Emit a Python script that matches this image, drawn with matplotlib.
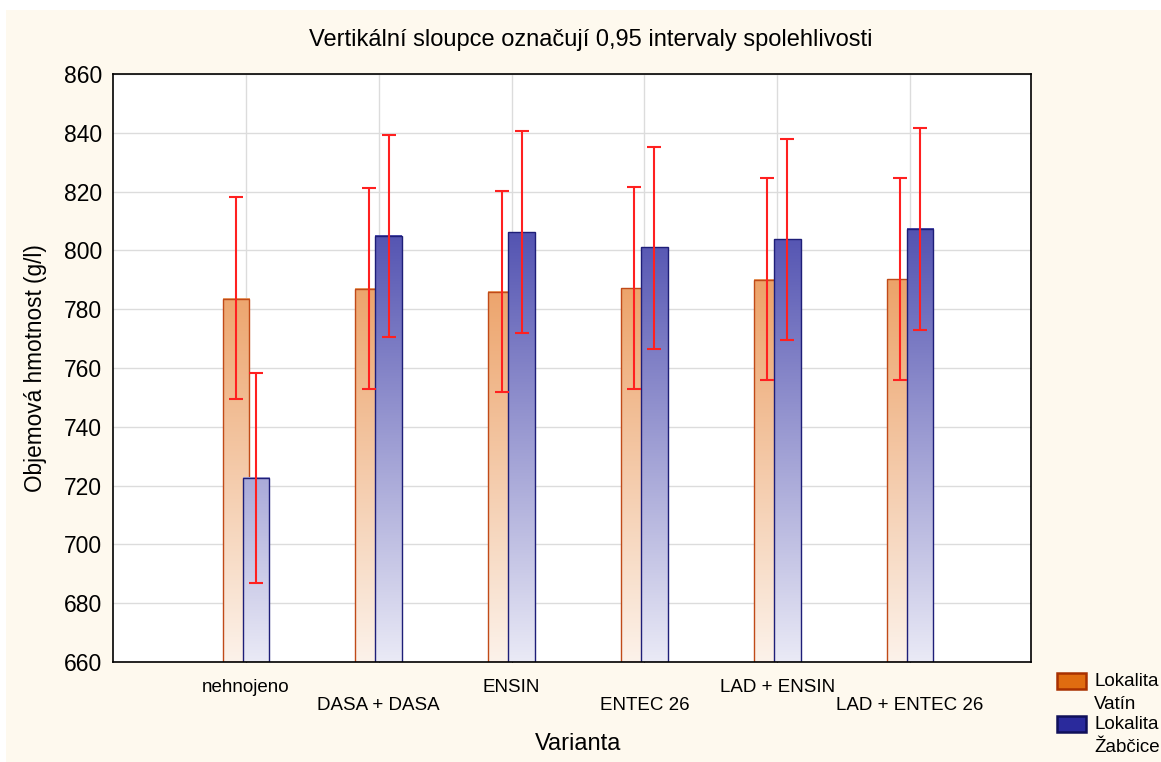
import matplotlib
matplotlib.use("Agg")
import matplotlib.pyplot as plt
import numpy as np
from matplotlib.patches import Rectangle

plt.rcParams['font.family'] = ['Liberation Sans', 'DejaVu Sans']

# data
varianty = ['nehnojeno', 'DASA + DASA', 'ENSIN', 'ENTEC 26', 'LAD + ENSIN', 'LAD + ENTEC 26']
vatin_mean = [783.6, 787.0, 786.0, 787.2, 790.0, 790.2]
vatin_low = [749.5, 752.8, 751.8, 752.8, 755.8, 755.8]
vatin_high = [818.0, 821.2, 820.3, 821.5, 824.5, 824.5]
zabcice_mean = [722.6, 805.0, 806.2, 801.0, 803.8, 807.3]
zabcice_low = [687.0, 770.6, 772.0, 766.6, 769.6, 773.0]
zabcice_high = [758.3, 839.2, 840.5, 835.3, 838.0, 841.5]
legenda = ['Lokalita\nVatín', 'Lokalita\nŽabčice']

ymin, ymax = 660, 860
bar_w = 0.2
off = 0.075
W, H = 1161, 762

fig = plt.figure(figsize=(W / 100, H / 100), dpi=100)
fig.patch.set_facecolor('white')
fig.patches.append(Rectangle((6 / W, 0), 1, 1 - 10 / H, transform=fig.transFigure,
                             facecolor='#fef9ee', edgecolor='none', zorder=-10))
ax = fig.add_axes([113 / W, 1 - 662 / H, (1031 - 113) / W, (662 - 74) / H])
ax.set_facecolor('white')


def grad_bar(x, h, top_rgb, bot_rgb, edge, z):
    # vertical gradient depending on absolute value (as in original)
    ys = np.linspace(ymin, h, 200)
    t = np.clip((ys - ymin) / (810 - ymin), 0, 1)[:, None]
    top = np.array(top_rgb) / 255.0
    bot = np.array(bot_rgb) / 255.0
    img = (bot + (top - bot) * t)[:, None, :]
    ax.imshow(img, extent=(x - bar_w / 2, x + bar_w / 2, ymin, h), origin='lower',
              aspect='auto', zorder=z, interpolation='bilinear')
    ax.bar(x, h - ymin, bottom=ymin, width=bar_w, facecolor='none', edgecolor=edge,
           linewidth=1.0, zorder=z + 0.05)


x = np.arange(len(varianty))
for i in x:
    grad_bar(i - off, vatin_mean[i], (234, 150, 85), (252, 242, 234), '#c04a18', 2)
    grad_bar(i + off, zabcice_mean[i], (80, 80, 176), (234, 234, 246), '#1e1e78', 2.2)

v_err = [np.array(vatin_mean) - np.array(vatin_low), np.array(vatin_high) - np.array(vatin_mean)]
z_err = [np.array(zabcice_mean) - np.array(zabcice_low), np.array(zabcice_high) - np.array(zabcice_mean)]
ax.errorbar(x - off, vatin_mean, yerr=v_err, fmt='none', ecolor='#ff2020', elinewidth=1.5,
            capsize=4.8, capthick=1.5, zorder=4)
ax.errorbar(x + off, zabcice_mean, yerr=z_err, fmt='none', ecolor='#ff2020', elinewidth=1.5,
            capsize=4.8, capthick=1.5, zorder=4)

ax.set_xlim(-1.0, 5.91)
ax.set_ylim(ymin, ymax)
ax.set_yticks(np.arange(660, 861, 20))
ax.tick_params(axis='y', labelsize=16.5, length=0, pad=8)

# staggered category labels: even ones as major, odd ones as minor ticks
ax.set_xticks(x[::2])
ax.set_xticklabels(varianty[::2])
ax.set_xticks(x[1::2], minor=True)
ax.set_xticklabels(varianty[1::2], minor=True)
ax.tick_params(axis='x', which='major', labelsize=13.5, direction='in', length=4, pad=12)
ax.tick_params(axis='x', which='minor', labelsize=13.5, direction='in', length=4, pad=25)

ax.grid(True, which='both', color='#dcdcdc', linewidth=1.0, zorder=0)
ax.set_axisbelow(True)
for s in ax.spines.values():
    s.set_linewidth(1.2)
    s.set_color('black')

fig.text(591 / W, 1 - 40 / H, 'Vertikální sloupce označují 0,95 intervaly spolehlivosti',
         fontsize=17, ha='center', va='center')
fig.text(578 / W, 1 - 750 / H, 'Varianta', fontsize=17, ha='center', va='baseline')
ax.set_ylabel('Objemová hmotnost (g/l)', fontsize=16.3, labelpad=12)

# legend drawn by hand (patch aligned with first line of two-line label)
leg_colors = [('#e06c10', '#a83000'), ('#2a2a9c', '#10105a')]
leg_top = [672, 715]
for (fc, ec), top, lab in zip(leg_colors, leg_top, legenda):
    fig.patches.append(Rectangle((1057 / W, 1 - (top + 17) / H), 29 / W, 16 / H,
                                 transform=fig.transFigure, facecolor=fc, edgecolor=ec,
                                 linewidth=1.8))
    l1, l2 = lab.split('\n')
    fig.text(1094 / W, 1 - (top + 14) / H, l1, fontsize=13.5, va='baseline')
    fig.text(1094 / W, 1 - (top + 37) / H, l2, fontsize=13.5, va='baseline')

fig.savefig('out.png', dpi=100, facecolor=fig.get_facecolor())
